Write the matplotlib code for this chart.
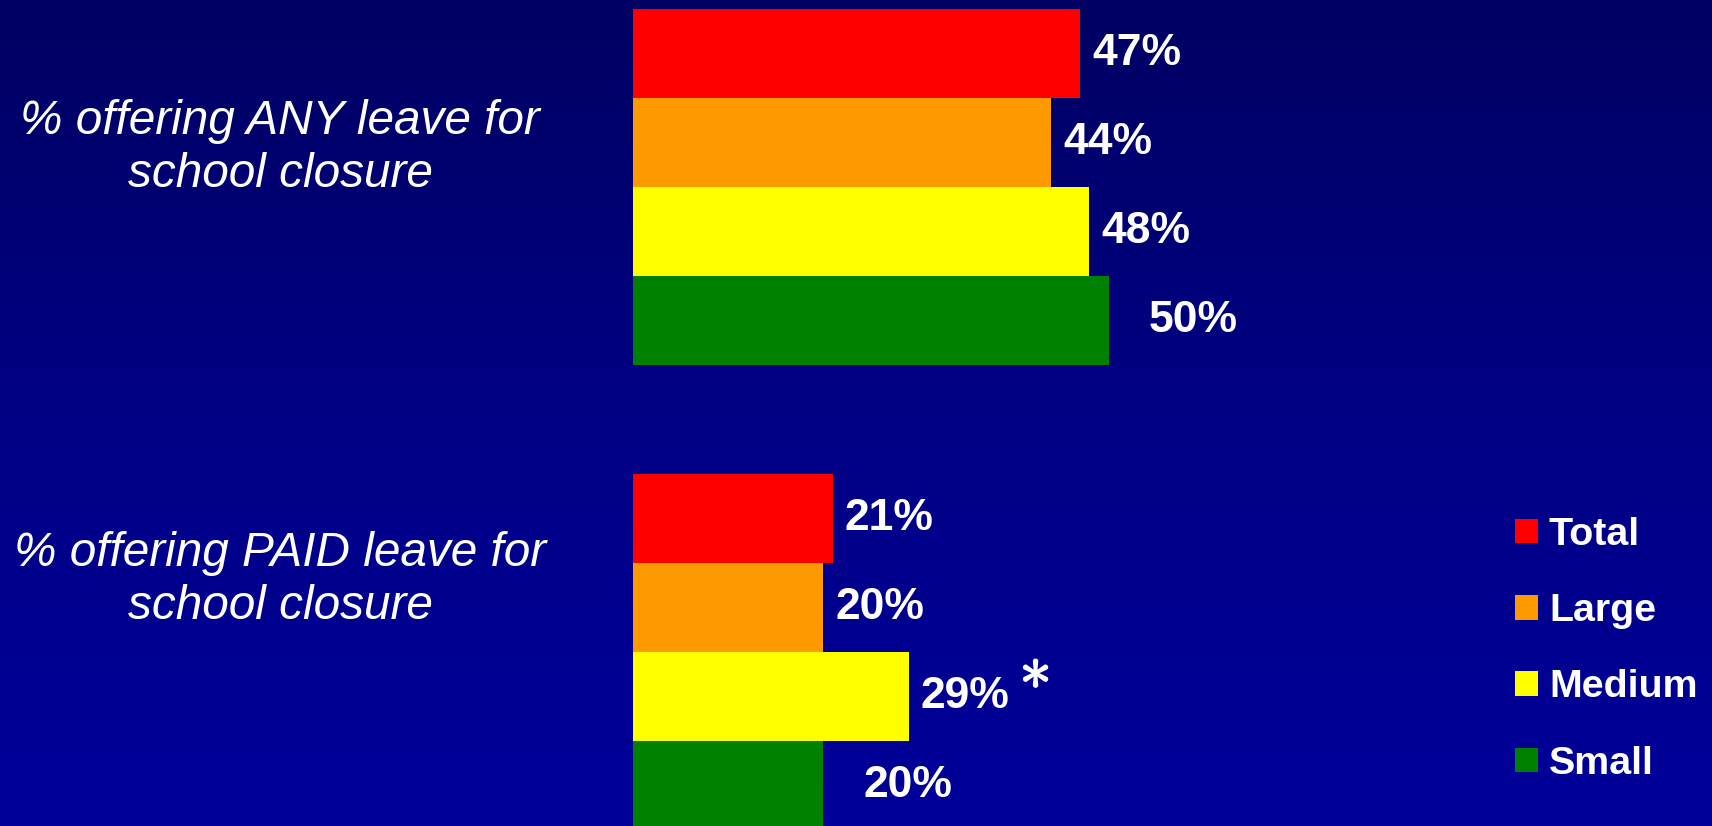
import numpy as np
import matplotlib.pyplot as plt
import matplotlib.patheffects as pe
from matplotlib.colors import LinearSegmentedColormap

# Chart data
groups = ["% offering ANY leave for\nschool closure",
          "% offering PAID leave for\nschool closure"]
series = ["Total", "Large", "Medium", "Small"]
any_leave = [47, 44, 48, 50]
paid_leave = [21, 20, 29, 20]
colors = ["#ff0000", "#ff9900", "#ffff00", "#008000"]

plt.rcParams['font.family'] = ['Liberation Sans', 'DejaVu Sans']

W, H, DPI = 1712, 826, 100
fig = plt.figure(figsize=(W / DPI, H / DPI), dpi=DPI)

# Background gradient (dark navy at top to blue at bottom)
bg = fig.add_axes([0, 0, 1, 1], zorder=-1)
cmap = LinearSegmentedColormap.from_list("bg", ["#000062", "#000084", "#00009a"])
bg.imshow(np.linspace(0, 1, 256).reshape(-1, 1), aspect='auto', cmap=cmap,
          extent=[0, 1, 0, 1])
bg.axis('off')

# Main axes: x in percent, y in bar units
ax = fig.add_axes([0, 0, 1, 1])
ax.patch.set_alpha(0)
px_per_pct = 9.51
x0 = 633
ax.set_xlim(-x0 / px_per_pct, (W - x0) / px_per_pct)
bar_px = 89
top_px = 53.5
ax.set_ylim((H - top_px) / bar_px, -top_px / bar_px)
ax.axis('off')

group_gap = 1.22
label_gap = [12, 12, 12, 40]  # pixel gap between bar end and value label

handles = []
for g, vals in enumerate([any_leave, paid_leave]):
    base = g * (len(series) + group_gap)
    ys = base + np.arange(len(series))
    bars = ax.barh(ys, vals, height=1.0, color=colors, linewidth=0)
    if g == 0:
        handles = bars.patches
    for i, (y, v) in enumerate(zip(ys, vals)):
        ax.annotate(f"{v}%", xy=(v, y), xytext=(label_gap[i] * 0.72, 0),
                    textcoords='offset points', ha='left', va='center',
                    fontsize=32, fontweight='bold', color='white')
    if g == 1:
        # significance marker next to Medium
        ax.annotate(r"$\ast$", xy=(vals[2], ys[2]), xytext=(90.5, 17),
                    textcoords='offset points', ha='center', va='center',
                    fontsize=46, color='white', math_fontfamily='cm',
                    path_effects=[pe.withStroke(linewidth=1.3, foreground='white')])

# Category labels on the left
fig.text(280 / W, 1 - 148 / H, groups[0], ha='center', va='center',
         fontsize=34.4, style='italic', color='white', linespacing=1.23)
fig.text(280 / W, 1 - 580 / H, groups[1], ha='center', va='center',
         fontsize=34.4, style='italic', color='white', linespacing=1.23)

leg = fig.legend(handles, series, loc='upper left',
                 bbox_to_anchor=(1515 / W, 1 - 517 / H), frameon=False,
                 borderpad=0, borderaxespad=0, handlelength=0.58,
                 handleheight=0.58, handletextpad=0.28, labelspacing=1.02,
                 prop={'size': 28.4, 'weight': 'bold'})
for t in leg.get_texts():
    t.set_color('white')

fig.savefig("out.png", dpi=DPI)
